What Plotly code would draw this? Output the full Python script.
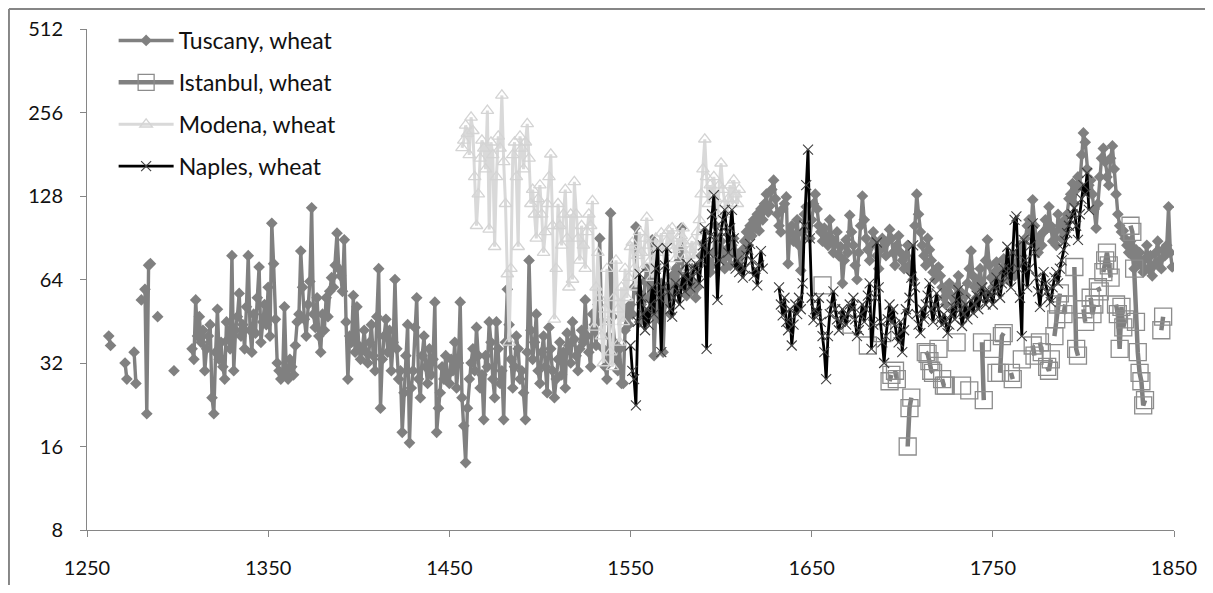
import plotly.graph_objects as go

N = None

# ---------------- data ----------------
tuscany_start = 1260
tuscany_values = [
    N, N, 40, 37, N, N, N, N, N, N,
    N, 32, 28, N, N, N, 35, 27, N, N,
    54, N, 59, 21, 72, 73, N, N, N, 47,
    N, N, N, N, N, N, N, N, 30, N,
    N, N, N, N, N, N, N, N, 36, 33,
    54, 40, 47, 38, 42, 30, 36, 40, 44, 24,
    21, 35, 50, 33, 38, 31, 28, 45, 39, 36,
    78, 30, 42, 47, 57, 40, 44, 36, 51, 78,
    42, 35, 48, 41, 55, 71, 38, 45, 52, 44,
    60, 40, 102, 73, 46, 32, 30, 28, 29, 51,
    30, 28, 33, 31, 29, 37, 45, 48, 81, 60,
    46, 40, 52, 63, 116, 48, 43, 55, 40, 35,
    48, 42, 55, 47, 58, 65, 60, 72, 94, 70,
    66, 58, 89, 45, 28, 40, 38, 56, 35, 51,
    37, 33, 36, 42, 35, 32, 38, 44, 34, 30,
    47, 70, 22, 33, 40, 46, 35, 42, 30, 38,
    64, 36, 28, 30, 18, 25, 34, 44, 16.5, 26,
    30, 43, 55, 28, 24, 34, 40, 31, 27, 36,
    29, 33, 53, 18, 22, 25, 31, 28, 34, 29,
    27, 33, 30, 38, 26, 32, 53, 24, 19, 14,
    22, 28, 32, 36, 30, 43, 34, 26, 29, 20,
    34, 31, 45, 38, 28, 24, 45, 36, 27, 30,
    20, 38, 59, 44, 33, 26, 31, 40, 36, 28,
    30, 25, 20, 35, 75, 42, 33, 38, 48, 30,
    27, 35, 40, 31, 25, 43, 36, 30, 24, 28,
    33, 38, 29, 35, 26, 41, 37, 32, 45, 39,
    34, 30, 36, 42, 38, 54, 40, 35, 31, 48,
    44, 37, 52, 90, 45, 36, 31, 28, 40, 111,
    47, 38, 33, 30, 36, 27, 27, 42, 50, 44,
    52, 48, 60, 99, 58, 45, 52, 48, 63, 70,
    55, 48, 89, 34, 50, 58, 46, 62, 35, 52,
    60, 55, 48, 66, 58, 70, 62, 75, 98, 68,
    60, 56, 64, 58, 70, 62, 55, 60, 72, 78,
    86, 95, 80, 75, 68, 72, 80, 100, 90, 84,
    88, 76, 70, 82, 78, 72, 85, 90, 80, 74,
    78, 70, 82, 88, 95, 85, 100, 92, 105, 98,
    110, 96, 115, 105, 120, 130, 112, 118, 135, 146,
    125, 110, 100, 95, 115, 120, 127, 73, 95, 100,
    88, 92, 105, 85, 69, 95, 110, 117, 100, 90,
    105, 120, 130, 115, 100, 95, 88, 98, 92, 85,
    105, 90, 80, 86, 95, 78, 84, 62, 75, 89,
    80, 109, 95, 85, 72, 64, 80, 100, 128, 105,
    90, 82, 75, 85, 95, 88, 78, 70, 82, 90,
    85, 78, 88, 97, 90, 80, 72, 85, 92, 80,
    75, 70, 78, 85, 72, 68, 64, 100, 130, 110,
    95, 85, 78, 72, 90, 82, 75, 68, 64, 70,
    71, 66, 60, 55, 52, 58, 62, 56, 50, 54,
    60, 66, 58, 52, 48, 56, 62, 70, 81, 66,
    60, 55, 64, 70, 62, 58, 75, 89, 72, 65,
    60, 68, 74, 66, 62, 70, 76, 68, 64, 72,
    78, 70, 66, 74, 80, 85, 78, 72, 90, 100,
    105, 95, 124, 100, 88, 80, 92, 85, 95, 105,
    98, 117, 100, 88, 95, 85, 110, 100, 90, 104,
    95, 110, 125, 130, 142, 120, 135, 150, 140, 180,
    216, 200, 160, 140, 146, 130, 115, 98, 120, 150,
    175, 190, 170, 150, 140, 175, 194, 160, 130, 110,
    100, 95, 96, 90, 85, 80, 88, 78, 70, 82,
    75, 80, 72, 68, 76, 85, 70, 78, 66, 72,
    80, 88, 75, 70, 82, 78, 85, 117, 80, 71,
]

istanbul_years = [
    1656, 1672, 1681, 1689, 1693, 1694, 1696, 1697, 1703, 1704, 1705, 1713,
    1714, 1715, 1716, 1717, 1720, 1722, 1723, 1724, 1730, 1733, 1737, 1744,
    1745, 1750, 1752, 1754, 1755, 1756, 1760, 1761, 1766, 1772, 1773, 1776,
    1777, 1780, 1781, 1782, 1784, 1785, 1786, 1787, 1789, 1790, 1795, 1796,
    1797, 1800, 1801, 1804, 1805, 1806, 1808, 1809, 1811, 1812, 1813, 1814,
    1815, 1818, 1819, 1820, 1821, 1822, 1823, 1826, 1827, 1828, 1829, 1830,
    1831, 1832, 1833, 1834, 1843, 1844,
]
istanbul_values = [
    61, 44, 37, 41, 27.5, 29, 30, 28, 16, 22, 24, 35,
    34.5, 32.5, 30, 29.5, 36, 28, 26.5, 26.5, 38, 26.5, 25.5, 38,
    23.5, 36, 29.5, 29.5, 40, 41, 29.5, 28, 33, 37, 34, 38,
    35, 31, 30, 33, 40, 46, 52, 57, 48, 52, 71, 36,
    34, 50, 45, 55, 48, 52, 60, 58, 68, 75, 80, 72,
    65, 52, 48, 36, 51, 43, 46, 100, 95, 70, 45, 35,
    29.5, 27.5, 22.5, 23.5, 42, 47,
]

modena_start = 1457
modena_values = [
    191, 203, 230, 215, 180, 246, 220, 150, 100, 130,
    175, 203, 190, 160, 260, 97, 200, 180, 84, 150,
    210, 190, 295, 170, 120, 67, 38, 70, 180, 200,
    150, 84, 210, 190, 160, 200, 233, 175, 120, 135,
    110, 90, 125, 140, 110, 80, 95, 120, 150, 181,
    100, 46, 70, 120, 100, 85, 110, 135, 90, 60,
    110, 64, 144, 110, 90, 75, 100, 85, 70, 95,
    110, 100, 123, 43, 60, 80, 55, 40, 32, 50,
    70, 45, 35, 31, 55, 75, 50, 38, 60, 45,
    70, 55, 65, 84, 87, 70, 60, 78, 95, 80,
    70, 90, 107, 85, 75, 65, 80, 90, 70, 85,
    94, 80, 72, 88, 96, 85, 98, 82, 76, 90,
    84, 92, 98, 86, 78, 70, 82, 88, 76, 84,
    95, 105, 130, 160, 205, 150, 120, 140, 130, 150,
    125, 110, 140, 168, 135, 120, 110, 125, 140, 120,
    146, 130, 120, 135,
]

naples_start = 1550
naples_values = [
    37, 30, 28, 22.5, 45, 67, 55, 48, 42, 50,
    44, 52, 60, 48, 70, 83, 55, 35, 60, 72,
    83, 58, 50, 47, 55, 62, 58, 52, 60, 66,
    58, 73, 64, 60, 66, 70, 73, 68, 62, 75,
    85, 98, 36, 80, 92, 110, 129, 90, 54, 75,
    95, 105, 114, 95, 80, 98, 114, 90, 70, 75,
    68, 72, 65, 70, 78, 82, 86, 75, 66, 70,
    61, 72, 81, 70, N, N, N, N, N, N,
    N, N, 60, 52, 47.5, 55, 45, 42, 50, 37,
    44, 52, 48, 55, 50, 62, 100, 140, 188, 90,
    55, 45.7, 50, 48, 55, 45, 40, 35, 28, 40,
    48, 52, 58, 50, 46, 42, 45, 50, 47, 44,
    48, 52, 50, 55, 46, 40, 42, 48, 52, 45,
    50, 56, 62, 36, 44, 55, 87, 60, 45, 38,
    32, 40, 46, 52, 45, 50, 44, 40, 38, 45,
    35, 42, 50, 48, 55, 65, 85, 60, 48, 44,
    41, 50, 46, 52, 56, 62, 50, 45, 52, 57,
    50, 46, 44, 48, 45, 41, 44, 48, 51, 46,
    54, 58.7, 50, 43.5, 48, 52, 46, 50, 54, 48.5,
    52, 56, 50, 55, 60, 57, 52, 55, 58, 56,
    52, 60, 65, 58, 55, 62, 70, 66, 84, 70,
    60, 80, 105, 108, 70, 55, 40, 89, 75, 60,
    70, 85, 102, 80, 65, 58, 51, 60, 68, 62,
    58, 55, 53, 60, 65, 68, 62, 70, 75, 82,
    88, 94, 100, 105, 110, 116, 100, 89, 110, 125,
    140, 130, 155, 114,
]

x_ticks = [1250, 1350, 1450, 1550, 1650, 1750, 1850]
y_ticks = [8, 16, 32, 64, 128, 256, 512]

tuscany_years = list(range(tuscany_start, tuscany_start + len(tuscany_values)))
modena_years = list(range(modena_start, modena_start + len(modena_values)))
naples_years = list(range(naples_start, naples_start + len(naples_values)))

# Istanbul: annual grid with gaps so that only consecutive years are joined
ist_map = dict(zip(istanbul_years, istanbul_values))
ist_x = list(range(min(istanbul_years), max(istanbul_years) + 1))
ist_y = [ist_map.get(y) for y in ist_x]

# ---------------- figure ----------------
fig = go.Figure()

fig.add_trace(go.Scatter(
    x=tuscany_years, y=tuscany_values, name="Tuscany, wheat",
    mode="lines+markers", connectgaps=False, legendgroup="a",
    line=dict(color="#808080", width=3.4),
    marker=dict(symbol="diamond", size=9, color="#808080",
                line=dict(width=0)),
))
fig.add_trace(go.Scatter(
    x=ist_x, y=ist_y, name="Istanbul, wheat",
    mode="lines+markers", connectgaps=False, legendgroup="b",
    line=dict(color="#808080", width=4.5),
    marker=dict(symbol="square-open", size=17, color="#8c8c8c",
                line=dict(width=1.3, color="#8c8c8c")),
))
fig.add_trace(go.Scatter(
    x=modena_years, y=modena_values, name="Modena, wheat",
    mode="lines+markers", connectgaps=False, legendgroup="c",
    line=dict(color="#d9d9d9", width=3),
    marker=dict(symbol="triangle-up-open", size=11, color="#d4d4d4",
                line=dict(width=1.3, color="#d4d4d4")),
))
fig.add_trace(go.Scatter(
    x=naples_years, y=naples_values, name="Naples, wheat",
    mode="lines+markers", connectgaps=False, legendgroup="d",
    line=dict(color="#000000", width=2.8),
    marker=dict(symbol="x-thin-open", size=10, color="#404040",
                line=dict(width=1.1, color="#404040")),
))

axis_col = "#868686"
fig.update_layout(
    width=1197, height=577,
    margin=dict(l=79, r=31, t=21, b=55, autoexpand=False),
    paper_bgcolor="white", plot_bgcolor="white",
    font=dict(family="Lato, Open Sans, sans-serif", size=20, color="#111111"),
    showlegend=True,
    legend=dict(
        x=0.0245, y=1.02, xanchor="left", yanchor="top",
        bgcolor="rgba(0,0,0,0)", traceorder="grouped", tracegroupgap=9,
        font=dict(size=23, color="#111111"), itemwidth=55,
    ),
    xaxis=dict(
        range=[1250, 1850], tickvals=x_ticks, ticktext=[str(v) for v in x_ticks],
        showgrid=False, zeroline=False, showline=True, linecolor=axis_col,
        linewidth=1, ticks="outside", ticklen=6, tickcolor=axis_col,
        ticklabelstandoff=14, automargin=False,
    ),
    yaxis=dict(
        type="log", range=[0.90309, 2.70927], tickvals=y_ticks,
        ticktext=[str(v) for v in y_ticks],
        showgrid=False, zeroline=False, showline=True, linecolor=axis_col,
        linewidth=1, ticks="outside", ticklen=6, tickcolor=axis_col,
        ticklabelstandoff=13, automargin=False,
    ),
    shapes=[
        dict(type="line", xref="paper", yref="paper", x0=-0.0718, x1=1.05,
             y0=1.0399, y1=1.0399, line=dict(color="#868686", width=2)),
        dict(type="line", xref="paper", yref="paper", x0=-0.0718, x1=-0.0718,
             y0=1.0399, y1=-0.2, line=dict(color="#868686", width=2)),
    ],
)

fig.write_html("out.html")
